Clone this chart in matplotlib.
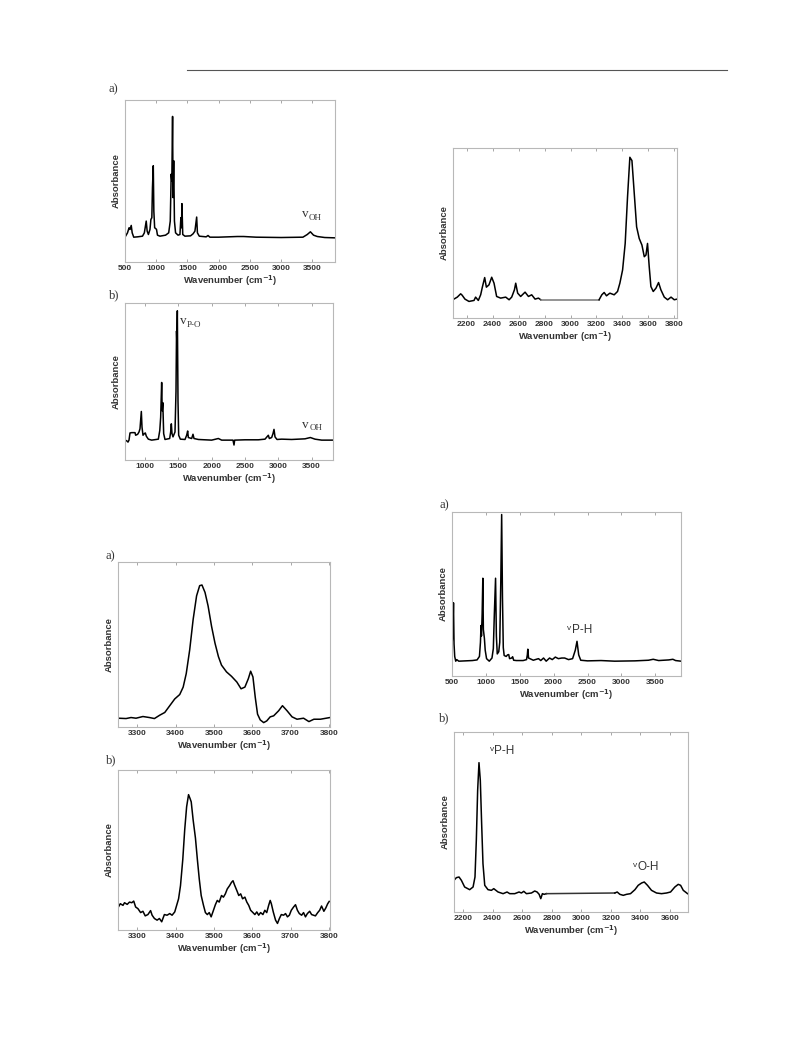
import numpy as np
import matplotlib
matplotlib.use('Agg')
from matplotlib import pyplot as plt
from matplotlib.lines import Line2D

plt.rcParams['font.family'] = ['Liberation Sans', 'DejaVu Sans']

# ---- spectra (x = wavenumber, y = absorbance, arb. units) ----
# top left a)
a1_x = [500, 540, 565, 580, 600, 615, 640, 700, 780, 810, 840, 855, 875, 900, 915, 930, 940, 953, 962,
        975, 990, 1005, 1020, 1060, 1150, 1200, 1225, 1240, 1250, 1262, 1270, 1280, 1292, 1310, 1350,
        1380, 1395, 1405, 1412, 1425, 1460, 1550, 1590, 1620, 1648, 1660, 1690, 1800, 1830, 1860, 2000,
        2300, 2400, 2600, 3000, 3350, 3420, 3470, 3520, 3580, 3700, 3864]
a1_y = [2, 15, 30, 25, 37, 15, 2, 3, 5, 15, 50, 20, 10, 25, 55, 60, 150, 215, 80,
        30, 28, 25, 8, 5, 8, 15, 50, 190, 170, 362, 120, 230, 50, 15, 8,
        10, 60, 30, 102, 10, 5, 6, 12, 20, 62, 15, 5, 3, 7, 2, 2,
        4, 4, 2, 1, 2, 10, 18, 8, 4, 1, 0]

# top left b)
b1_x = [700, 725, 745, 760, 775, 800, 850, 860, 890, 910, 925, 945, 955, 970, 990, 1005, 1020, 1050,
        1100, 1200, 1222, 1235, 1250, 1258, 1267, 1280, 1300, 1370, 1385, 1395, 1405, 1420, 1450, 1465,
        1473, 1478, 1485, 1495, 1505, 1530, 1600, 1625, 1640, 1650, 1700, 1720, 1735, 1800, 2000, 2100,
        2150, 2320, 2335, 2345, 2500, 2700, 2800, 2850, 2865, 2900, 2920, 2935, 2950, 2980, 3050, 3200,
        3400, 3480, 3550, 3650, 3820]
b1_y = [0, -2, -6, 0, 22, 23, 23, 15, 18, 25, 35, 88, 40, 15, 20, 22, 12, 3,
        0, 3, 30, 70, 177, 90, 115, 20, 2, 5, 25, 50, 20, 10, 25, 150,
        335, 300, 397, 120, 15, 3, 2, 15, 28, 8, 5, 18, 5, 2, 0, 5,
        0, 0, -15, 0, 1, 1, 3, 15, 5, 8, 20, 33, 10, 2, 3, 2,
        4, 8, 3, 0, 0]

# top right (two recorded ranges)
c1_x = [2102, 2128, 2154, 2165, 2187, 2218, 2257, 2269, 2290, 2308, 2321, 2339, 2352, 2372, 2393, 2411,
        2431, 2462, 2501, 2527, 2547, 2568, 2578, 2593, 2616, 2650, 2676, 2701, 2727, 2753, 2771]
c1_y = [2, 8, 18, 14, 2, -5, -2, 8, -2, 15, 38, 67, 38, 45, 68, 50,
        10, 5, 8, 0, 8, 30, 50, 20, 10, 23, 10, 15, 2, 5, 0]
c2_x = [3220, 3241, 3259, 3277, 3303, 3336, 3362, 3380, 3401, 3421, 3439, 3457, 3473, 3491, 3509, 3529,
        3550, 3568, 3581, 3593, 3606, 3619, 3637, 3658, 3678, 3696, 3722, 3748, 3774, 3799, 3820]
c2_y = [0, 15, 22, 12, 20, 15, 25, 50, 90, 170, 310, 430, 420, 320, 220, 185,
        165, 130, 135, 170, 100, 40, 25, 35, 52, 30, 8, 0, 8, 0, 2]

# middle left a)
d1_x = [3251, 3271, 3284, 3297, 3315, 3332, 3345, 3359, 3372, 3385, 3398, 3411, 3420, 3428, 3437, 3446,
        3455, 3463, 3469, 3477, 3485, 3494, 3503, 3512, 3520, 3533, 3546, 3560, 3571, 3581, 3590, 3596,
        3602, 3608, 3614, 3621, 3630, 3638, 3647, 3656, 3669, 3679, 3691, 3704, 3717, 3734, 3748, 3761,
        3778, 3803]
d1_y = [1, 0, 3, 1, 6, 3, 0, 10, 18, 38, 58, 71, 93, 133, 203, 293,
        363, 393, 395, 373, 333, 273, 223, 183, 158, 138, 125, 108, 88, 93, 118, 140,
        123, 63, 13, -4, -12, -7, 5, 8, 23, 38, 23, 5, -2, 1, -9, -2,
        -2, 3]

# bottom left b)
e1_x = [3251, 3256, 3263, 3267, 3274, 3280, 3286, 3291, 3296, 3302, 3309, 3315, 3321, 3328, 3335, 3339,
        3345, 3352, 3358, 3364, 3371, 3378, 3385, 3391, 3398, 3403, 3408, 3413, 3419, 3424, 3429, 3434,
        3438, 3441, 3446, 3452, 3457, 3462, 3467, 3473, 3478, 3483, 3488, 3493, 3499, 3504, 3509, 3514,
        3520, 3525, 3530, 3535, 3541, 3546, 3550, 3554, 3560, 3565, 3570, 3575, 3581, 3586, 3591, 3596,
        3602, 3607, 3612, 3617, 3622, 3628, 3633, 3638, 3643, 3647, 3650, 3655, 3661, 3666, 3671, 3676,
        3682, 3687, 3692, 3697, 3702, 3708, 3713, 3718, 3723, 3729, 3734, 3739, 3744, 3750, 3755, 3760,
        3765, 3771, 3776, 3781, 3787, 3792, 3797, 3801]
e1_y = [15, 25, 20, 28, 23, 30, 28, 33, 15, 10, -2, 2, -12, -8, 4, -10,
        -20, -25, -20, -30, -8, -10, -5, -10, 0, 20, 40, 80, 160, 250, 320, 357,
        345, 335, 280, 225, 160, 100, 50, 20, -2, -8, -2, -15, 5, 22, 35, 30,
        50, 45, 55, 70, 80, 90, 95, 82, 65, 50, 55, 40, 45, 30, 20, 5,
        -2, -8, 0, -10, -2, -8, 5, -2, 20, 35, 25, 0, -25, -35, -20, -8,
        -10, -5, -15, -10, 5, 15, 22, 5, -5, -10, -2, -15, -5, 2, -8, -10,
        -12, -2, 5, 18, 2, 12, 25, 32]

# middle right a)
f1_x = [500, 512, 522, 530, 540, 555, 570, 600, 700, 800, 870, 905, 920, 928, 935, 945, 955, 963, 978,
        990, 1010, 1050, 1090, 1110, 1125, 1143, 1155, 1168, 1190, 1205, 1220, 1233, 1245, 1257, 1270,
        1300, 1320, 1337, 1350, 1380, 1395, 1410, 1450, 1550, 1600, 1612, 1619, 1630, 1650, 1700, 1730,
        1777, 1810, 1851, 1890, 1940, 1980, 2025, 2070, 2120, 2163, 2220, 2280, 2320, 2345, 2370, 2400,
        2500, 2700, 2900, 3200, 3400, 3470, 3550, 3700, 3760, 3800, 3880]
f1_y = [50, 90, 185, 55, 15, 0, 5, 0, 1, 2, 4, 15, 60, 113, 80, 150, 263, 100, 73,
        35, 8, 0, 10, 40, 150, 263, 80, 23, 30, 60, 250, 465, 200, 43, 18,
        15, 20, 21, 8, 10, 14, 3, 2, 2, 5, 20, 38, 10, 8, 3, 5,
        8, 2, 10, 0, 10, 5, 13, 8, 10, 10, 5, 8, 35, 63, 20, 3,
        1, 2, 0, 1, 3, 6, 2, 4, 6, 2, 0]

# bottom right b) (two recorded ranges)
g1_x = [2139, 2155, 2173, 2189, 2211, 2245, 2268, 2281, 2290, 2299, 2308, 2317, 2326, 2335, 2347, 2369,
        2392, 2408, 2437, 2471, 2498, 2516, 2550, 2579, 2595, 2611, 2629, 2663, 2685, 2701, 2715, 2726,
        2737, 2749, 2764]
g1_y = [40, 48, 50, 40, 20, 12, 20, 50, 160, 310, 393, 340, 210, 90, 25, 12,
        10, 15, 5, 0, 5, 0, 0, 5, 2, 7, 0, 2, 8, 5, -2, -15,
        0, -2, 0]
g2_x = [3227, 3243, 3261, 3284, 3306, 3333, 3363, 3385, 3408, 3426, 3448, 3475, 3509, 3543, 3577, 3604,
        3633, 3656, 3672, 3690, 3719]
g2_y = [2, 5, -2, -5, -2, 0, 12, 25, 32, 35, 25, 10, 2, 0, 2, 5,
        20, 28, 25, 10, 0]

tick_sets = {
    'wide': [500, 1000, 1500, 2000, 2500, 3000, 3500],
    'wide_b': [1000, 1500, 2000, 2500, 3000, 3500],
    'c': [2200, 2400, 2600, 2800, 3000, 3200, 3400, 3600, 3800],
    'oh': [3300, 3400, 3500, 3600, 3700, 3800],
    'ph': [2200, 2400, 2600, 2800, 3000, 3200, 3400, 3600],
}

W, H = 791, 1059
fig = plt.figure(figsize=(W / 100, H / 100), dpi=100)
txt = '#333333'


def make_ax(l, r, t, b, xlim, ylim, ticks, fs=6.8, pad=3):
    ax = fig.add_axes([l / W, 1 - b / H, (r - l) / W, (b - t) / H])
    ax.set_xlim(*xlim)
    ax.set_ylim(*ylim)
    ax.set_yticks([])
    ax.set_xticks(ticks)
    ax.tick_params(axis='x', direction='in', top=True, length=2.5, width=0.6,
                   color='#999999', labelsize=6.0, labelcolor=txt, pad=2)
    for lab in ax.get_xticklabels():
        lab.set_fontweight('bold')
    for s in ax.spines.values():
        s.set_color('#b8b8b8')
        s.set_linewidth(0.8)
    ax.set_xlabel('Wavenumber (cm$^{\\mathbf{-1}}$)', fontsize=fs, fontweight='bold', color=txt, labelpad=1.5)
    ax.set_ylabel('Absorbance', fontsize=fs, fontweight='bold', color=txt, labelpad=pad)
    return ax


def nu_serif(ax, x, y, sub):
    ax.text(x, y, 'v', family='Liberation Serif', fontsize=9.5, color=txt)
    ax.annotate(sub, (x, y), xytext=(5, -1.8), textcoords='offset points',
                family='Liberation Serif', fontsize=6.5, color=txt)


def nu_sans(ax, x, y, sub):
    ax.annotate('v', (x, y), xytext=(0, 2), textcoords='offset points', fontsize=6, color=txt)
    ax.annotate(sub, (x, y), xytext=(3.2, 0), textcoords='offset points', fontsize=8.5, color=txt)


def panel_tag(x, y, s):
    fig.text(x / W, 1 - y / H, s, family='Liberation Serif', fontsize=9, color=txt, va='center')


lw = 1.1

# top left a)
ax1 = make_ax(125, 335, 100, 262, (500, 3864), (-72, 411), tick_sets['wide'])
ax1.plot(a1_x, a1_y, color='black', lw=lw)
nu_serif(ax1, 3330, 62, 'OH')
panel_tag(109, 89, 'a)')

# top left b)
ax2 = make_ax(125, 333, 303, 460, (700, 3820), (-61, 421), tick_sets['wide_b'])
ax2.plot(b1_x, b1_y, color='black', lw=lw)
nu_serif(ax2, 1520, 355, 'P-O')
nu_serif(ax2, 3360, 38, 'OH')
panel_tag(109, 295, 'b)')

# top right
ax3 = make_ax(453, 677, 148, 318, (2095, 3820), (-55, 458), tick_sets['c'])
ax3.plot(c1_x, c1_y, color='black', lw=lw)
ax3.plot([c1_x[-1], c2_x[0]], [c1_y[-1], c2_y[0]], color='#777777', lw=lw)
ax3.plot(c2_x, c2_y, color='black', lw=lw)

# middle left a)
ax4 = make_ax(118, 330, 562, 727, (3250, 3803), (-25, 463), tick_sets['oh'])
ax4.plot(d1_x, d1_y, color='black', lw=lw)
panel_tag(106, 556, 'a)')

# bottom left b)
ax5 = make_ax(118, 330, 770, 930, (3250, 3803), (-55, 432), tick_sets['oh'])
ax5.plot(e1_x, e1_y, color='black', lw=lw)
panel_tag(106, 760, 'b)')

# middle right a)
ax6 = make_ax(452, 681, 512, 676, (500, 3880), (-47, 473), tick_sets['wide'])
ax6.plot(f1_x, f1_y, color='black', lw=lw)
nu_sans(ax6, 2200, 90, 'P-H')
panel_tag(439, 505, 'a)')

# bottom right b)
ax7 = make_ax(454, 688, 732, 912, (2139, 3722), (-55, 485), tick_sets['ph'])
ax7.plot(g1_x, g1_y, color='black', lw=lw)
ax7.plot([g1_x[-1], g2_x[0]], [g1_y[-1], g2_y[0]], color='#333333', lw=lw)
ax7.plot(g2_x, g2_y, color='black', lw=lw)
nu_sans(ax7, 2380, 420, 'P-H')
nu_sans(ax7, 3350, 72, 'O-H')
panel_tag(439, 718, 'b)')

# page header rule
fig.add_artist(Line2D([187 / W, 727 / W], [1 - 70 / H, 1 - 70 / H], color='#555555', lw=0.8))

fig.savefig('out.png', dpi=100)
